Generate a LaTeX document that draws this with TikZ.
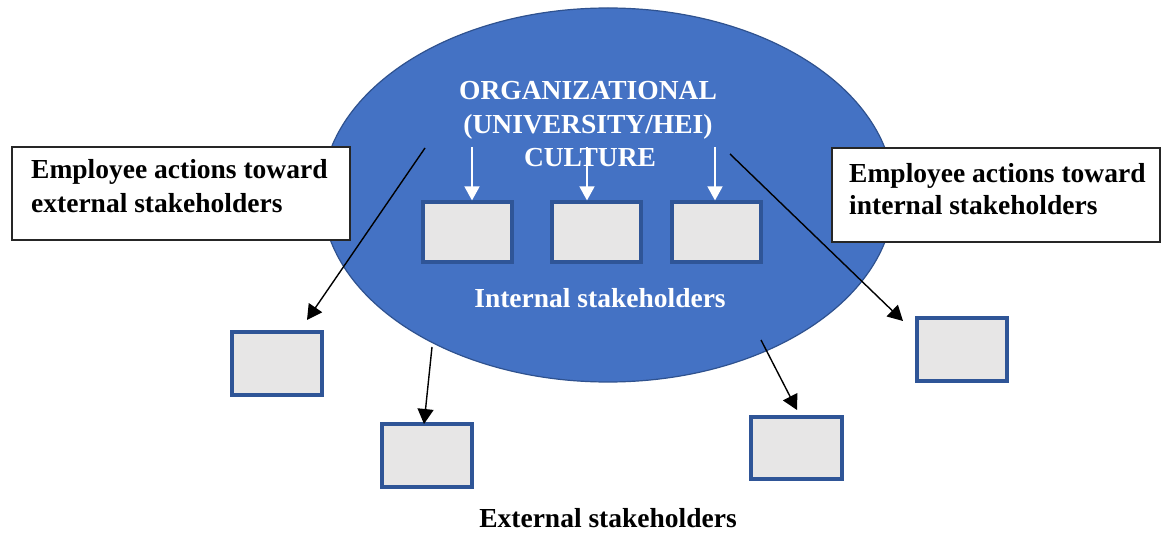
\documentclass[tikz,border=0pt]{standalone}
\usepackage{fontspec}
\setmainfont{Liberation Serif}
\usetikzlibrary{shapes.geometric,arrows.meta}
\definecolor{orgblue}{HTML}{4472C4}
\definecolor{orgedge}{HTML}{2F528F}
\definecolor{boxedge}{HTML}{2F5597}
\definecolor{boxfill}{HTML}{E7E6E6}
\begin{document}
\begin{tikzpicture}[x=1pt,y=-1pt,
  lbl/.style={font=\fontsize{27.5}{33}\selectfont\bfseries, inner sep=0pt},
  standbox/.style={draw=boxedge, line width=3.2pt, fill=boxfill, inner sep=0pt},
  textbox/.style={draw=black!85, line width=1.4pt, fill=white},
  blackarrow/.style={line width=1.4pt, -{Triangle[length=15pt,width=16pt]}},
  whitearrow/.style={white, line width=1.6pt, -{Triangle[length=14pt,width=15pt]}}]
\useasboundingbox (0,0) rectangle (1161,534);

% organisation ellipse
\node (org) [ellipse, draw=orgedge, line width=1.2pt, fill=orgblue,
  minimum width=572pt, minimum height=374pt] at (608,195) {};

% side text boxes
\path[textbox] (12,147) rectangle (350,240);
\node (lefttxt) [lbl, anchor=base west] at (31,179) {Employee actions toward};
\node (lefttxt2) [lbl, anchor=base west] at (31,213) {external stakeholders};
\path[textbox] (832,148) rectangle (1160,242);
\node (righttxt) [lbl, anchor=base west] at (849,183) {Employee actions toward};
\node (righttxt2) [lbl, anchor=base west] at (849,215) {internal stakeholders};

% culture title
\node (org1) [lbl, text=white, anchor=base] at (588,100) {ORGANIZATIONAL};
\node (org2) [lbl, text=white, anchor=base] at (588,134) {(UNIVERSITY/HEI)};
\node (org3) [lbl, text=white, anchor=base] at (590,167) {CULTURE};

% internal stakeholder boxes
\node (ib1) [standbox, minimum width=89pt, minimum height=60pt] at (467.5,232) {};
\node (ib2) [standbox, minimum width=89pt, minimum height=60pt] at (596.5,232) {};
\node (ib3) [standbox, minimum width=89pt, minimum height=60pt] at (716.5,232) {};
\node (intlbl) [lbl, text=white, anchor=base] at (600,308) {Internal stakeholders};

% external stakeholder boxes
\node (eb1) [standbox, minimum width=90pt, minimum height=63pt] at (277,363.5) {};
\node (eb2) [standbox, minimum width=90pt, minimum height=63pt] at (427,455.5) {};
\node (eb3) [standbox, minimum width=91pt, minimum height=62pt] at (796.5,448) {};
\node (eb4) [standbox, minimum width=90pt, minimum height=63pt] at (962,349.5) {};
\node (extlbl) [lbl, anchor=base] at (608,527) {External stakeholders};

% culture flowing into internal stakeholders
\coordinate (w1) at (472,147);
\coordinate (w2) at (587,147);
\coordinate (w3) at (715,147);
\draw[whitearrow] (w1) -- (w1 |- ib1.north);
\draw[whitearrow] (w2) -- (w2 |- ib2.north);
\draw[whitearrow] (w3) -- (w3 |- ib3.north);

% employee actions
\coordinate (s1) at (425,148);  \coordinate (t1) at (307,320);
\coordinate (s2) at (432,347);  \coordinate (t2) at (424,424);
\coordinate (s3) at (761,340);  \coordinate (t3) at (797,410);
\coordinate (s4) at (730,154);  \coordinate (t4) at (903,321);
\draw[blackarrow] (s1) -- (t1);
\draw[blackarrow] (s2) -- (t2);
\draw[blackarrow] (s3) -- (t3);
\draw[blackarrow] (s4) -- (t4);
\end{tikzpicture}
\end{document}
